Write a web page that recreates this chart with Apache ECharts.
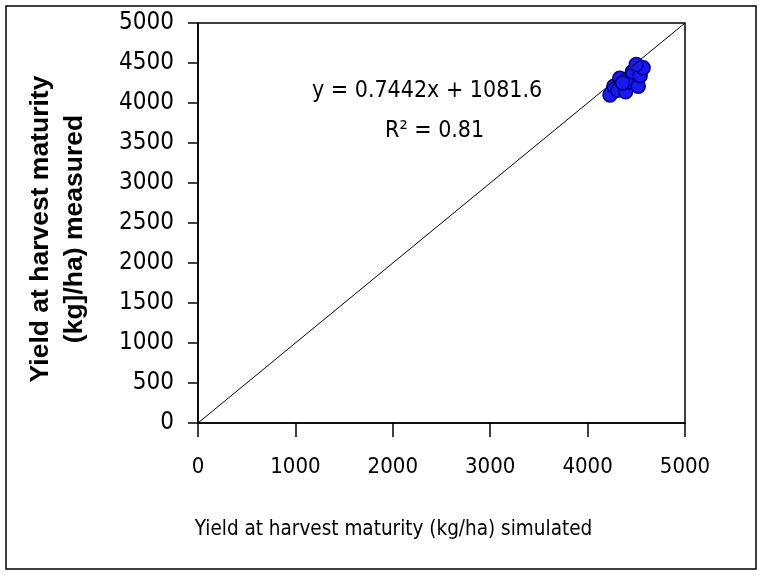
<!DOCTYPE html>
<html><head><meta charset="utf-8">
<script src="https://cdn.jsdelivr.net/npm/echarts@6/dist/echarts.min.js"></script>
<style>html,body{margin:0;padding:0;background:#fff}#c{width:762px;height:575px}</style>
</head><body><div id="c"></div>
<script>
const simulated = [4230, 4270, 4330, 4310, 4390, 4430, 4460, 4520, 4540, 4570, 4500, 4360];
const measured  = [4100, 4210, 4310, 4160, 4140, 4260, 4390, 4210, 4340, 4440, 4480, 4250];
const oneToOne = [[0, 0], [5000, 5000]];
const xTitle = 'Yield at harvest maturity (kg/ha) simulated';
const yTitle = 'Yield at harvest maturity\n(kg]/ha) measured';
const eqText = 'y = 0.7442x + 1081.6';
const r2Text = 'R² = 0.81';

const chart = echarts.init(document.getElementById('c'));
const font = "'Liberation Sans Narrow','DejaVu Sans Condensed',sans-serif";
chart.setOption({
  animation: false,
  grid: {left: 198, right: 77, top: 23, bottom: 152},
  xAxis: {
    type: 'value', min: 0, max: 5000, interval: 1000,
    axisLine: {show: true, onZero: false, lineStyle: {color: '#000', width: 1.5}},
    axisTick: {show: true, inside: false, length: 14, lineStyle: {color: '#000', width: 1.5}},
    axisLabel: {color: '#000', fontSize: 22, fontWeight: 'normal', fontFamily: font, margin: 33, formatter: v => String(v)},
    splitLine: {show: false},
    name: xTitle, nameLocation: 'middle', nameGap: 96,
    nameTextStyle: {color: '#000', fontSize: 20.5, fontWeight: 'normal', fontFamily: font, padding: [0, 96, 0, 0]}
  },
  yAxis: {
    type: 'value', min: 0, max: 5000, interval: 500,
    axisLine: {show: true, onZero: false, lineStyle: {color: '#000', width: 1.5}},
    axisTick: {show: true, length: 10, lineStyle: {color: '#000', width: 1.5}},
    axisLabel: {color: '#000', fontSize: 24, fontWeight: 'normal', fontFamily: font, margin: 24, formatter: v => String(v)},
    splitLine: {show: false},
    name: yTitle, nameLocation: 'middle', nameGap: 106,
    nameTextStyle: {color: '#000', fontSize: 26.5, fontWeight: 'bold', fontFamily: "'Liberation Sans',Arial,sans-serif", lineHeight: 34, padding: [0, 12, 0, 0]}
  },
  graphic: [
    {type: 'rect', shape: {x: 6, y: 6, width: 750, height: 563}, style: {fill: 'none', stroke: '#000', lineWidth: 1.5}, silent: true},
    {type: 'rect', shape: {x: 198, y: 23, width: 487, height: 400}, style: {fill: 'none', stroke: '#000', lineWidth: 1.5}, silent: true},
    {type: 'text', left: 312, top: 80, style: {text: eqText, fontSize: 23, fontFamily: font, fill: '#000'}},
    {type: 'text', left: 385, top: 120, style: {text: r2Text, fontSize: 23, fontFamily: font, fill: '#000'}}
  ],
  series: [
    {type: 'line', data: oneToOne, symbol: 'none', lineStyle: {color: '#000', width: 1}, z: 3},
    {type: 'scatter', data: simulated.map((v, i) => [v, measured[i]]), symbolSize: 14,
     itemStyle: {color: '#1a1af0', borderColor: '#00008b', borderWidth: 1.5, opacity: 1}, z: 2}
  ]
});
</script></body></html>
